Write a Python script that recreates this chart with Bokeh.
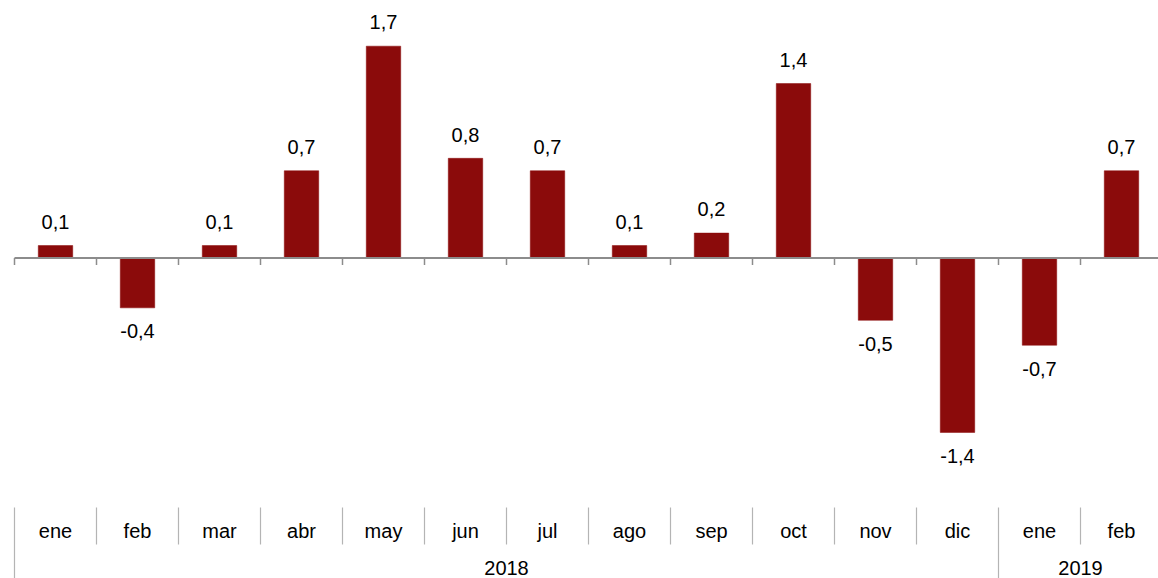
from bokeh.plotting import figure
from bokeh.models import Range1d, ColumnDataSource
from bokeh.core.properties import value
from bokeh.embed import file_html
from bokeh.resources import INLINE

months = ["ene", "feb", "mar", "abr", "may", "jun", "jul", "ago", "sep", "oct", "nov", "dic", "ene", "feb"]
values = [0.1, -0.4, 0.1, 0.7, 1.7, 0.8, 0.7, 0.1, 0.2, 1.4, -0.5, -1.4, -0.7, 0.7]
years = ["2018", "2019"]
year_counts = [12, 2]

FONT = value("Liberation Sans")
BAR = "#8B0B0B"

# layout constants (pixels)
W, H = 1158, 578
ZERO_PX = 257.5
PX_PER_UNIT = 124.6
CAT_PX = 82.0
LEFT_PX = 14.0
TXT_FIX = 8.0   # renderer places alphabetic baseline this much lower

def ypx(py):
    return (ZERO_PX - py) / PX_PER_UNIT

n = len(months)
p = figure(width=W, height=H, output_backend="svg", toolbar_location=None,
           x_range=Range1d(-LEFT_PX / CAT_PX, (W - LEFT_PX) / CAT_PX),
           y_range=Range1d(ypx(H), ypx(0)),
           min_border=0, min_border_left=0, min_border_right=0,
           min_border_top=0, min_border_bottom=0)
p.axis.visible = False
p.grid.visible = False
p.outline_line_color = None
p.background_fill_color = "white"
p.border_fill_color = "white"

xs = [i + 0.5 for i in range(n)]
src = ColumnDataSource(dict(
    x=xs, top=values, bottom=[0] * n,
    label=[f"{v:.1f}".replace(".", ",") for v in values],
    off=[(-15.7 - TXT_FIX) if v >= 0 else 23.5 for v in values],
    month=months,
))
p.vbar(x="x", top="top", bottom="bottom", width=0.42, source=src,
       fill_color=BAR, line_color=BAR, line_width=0.5)

# zero axis line and ticks
p.segment(x0=[0], y0=[0], x1=[n + 1], y1=[0], line_color="#8c8c8c", line_width=2)
bnds = list(range(n + 1))
p.segment(x0=bnds, y0=[0] * len(bnds), x1=bnds, y1=[ypx(264.5)] * len(bnds),
          line_color="#8c8c8c", line_width=1.5)

# value labels
p.text(x="x", y="top", text="label", source=src, y_offset="off",
       text_align="center", text_baseline="alphabetic",
       text_font=FONT, text_font_size="20px", text_color="black")

# month labels
p.text(x="x", y=ypx(538 - TXT_FIX), text="month", source=src,
       text_align="center", text_baseline="alphabetic",
       text_font=FONT, text_font_size="20px", text_color="black")

# separators in label area
grp_bounds = [0]
for c in year_counts:
    grp_bounds.append(grp_bounds[-1] + c)
short = [b for b in range(1, n) if b not in grp_bounds]
p.segment(x0=short, y0=[ypx(507)] * len(short), x1=short, y1=[ypx(544)] * len(short),
          line_color="#b4b4b4", line_width=1.2)
longb = grp_bounds[:-1]
p.segment(x0=longb, y0=[ypx(507)] * len(longb), x1=longb, y1=[ypx(H + 5)] * len(longb),
          line_color="#b4b4b4", line_width=1.2)

# year labels
ycent = [(grp_bounds[i] + grp_bounds[i + 1]) / 2 for i in range(len(years))]
p.text(x=ycent, y=[ypx(575 - TXT_FIX)] * len(years), text=years,
       text_align="center", text_baseline="alphabetic",
       text_font=FONT, text_font_size="20px", text_color="black")

open("out.html", "w").write(file_html(p, INLINE))
